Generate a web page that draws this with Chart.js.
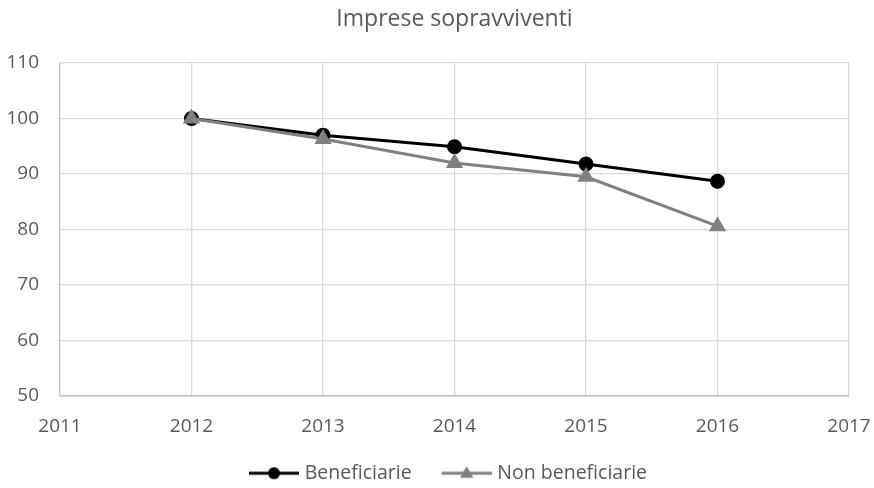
<!DOCTYPE html>
<html>
<head>
<meta charset="utf-8">
<script src="https://cdn.jsdelivr.net/npm/chart.js@4/dist/chart.umd.min.js"></script>
<style>
  html, body { margin: 0; padding: 0; background: #ffffff; }
  #wrap { width: 874px; height: 488px; }
</style>
</head>
<body>
<div id="wrap"><canvas id="chart" width="874" height="488"></canvas></div>
<script>
// Surviving firms index (2012 = 100)
const years = [2012, 2013, 2014, 2015, 2016];
const beneficiarie = [100, 97.0, 94.9, 91.8, 88.7];
const nonBeneficiarie = [100, 96.3, 92.0, 89.5, 80.6];
const seriesNames = ['Beneficiarie', 'Non beneficiarie'];
const chartTitle = 'Imprese sopravviventi';

const FONT = "'Open Sans', 'Noto Sans', sans-serif";
const TEXT = '#595959';
const GRID = '#d9d9d9';

// Legend swatch: a 50px line segment with the series marker in its middle.
// The canvas overhangs the legend box by 4px on each side so the line
// runs close to the label text; the rest of the box is leading space.
const SWATCH_BOX = 68, SWATCH_LINE = 50, OVERHANG = 4;
function swatch(color, style, radius) {
  const h = 18;
  const c = document.createElement('canvas');
  c.width = SWATCH_BOX + OVERHANG * 2; c.height = h;
  const g = c.getContext('2d');
  const x1 = c.width, x0 = x1 - SWATCH_LINE, cy = h / 2;
  g.strokeStyle = color; g.lineWidth = 3;
  g.beginPath(); g.moveTo(x0, cy); g.lineTo(x1, cy); g.stroke();
  g.fillStyle = color;
  const cx = (x0 + x1) / 2;
  g.beginPath();
  if (style === 'circle') {
    g.arc(cx, cy, radius, 0, Math.PI * 2);
  } else {
    g.moveTo(cx, cy - radius);
    g.lineTo(cx + radius * 0.95, cy + radius * 0.65);
    g.lineTo(cx - radius * 0.95, cy + radius * 0.65);
    g.closePath();
  }
  g.fill();
  return c;
}

const toPoints = vals => years.map((yr, i) => ({ x: yr, y: vals[i] }));

new Chart(document.getElementById('chart'), {
  type: 'line',
  data: {
    datasets: [
      {
        label: seriesNames[0],
        data: toPoints(beneficiarie),
        borderColor: '#000000',
        backgroundColor: '#000000',
        borderWidth: 3,
        pointStyle: 'circle',
        pointRadius: 6,
        pointHoverRadius: 6,
        tension: 0,
        order: 1
      },
      {
        label: seriesNames[1],
        data: toPoints(nonBeneficiarie),
        borderColor: '#808080',
        backgroundColor: '#808080',
        borderWidth: 3,
        pointStyle: 'triangle',
        pointRadius: 7,
        pointHoverRadius: 7,
        tension: 0,
        order: 0
      }
    ]
  },
  options: {
    responsive: false,
    animation: false,
    layout: { padding: { left: 0, right: 0, top: 0, bottom: -5 } },
    scales: {
      x: {
        type: 'linear',
        min: 2011,
        max: 2017,
        ticks: {
          stepSize: 1,
          color: TEXT,
          padding: 19,
          font: { family: FONT, size: 19 },
          callback: v => String(v)
        },
        grid: { color: GRID, lineWidth: 1.3, drawTicks: false },
        border: { color: '#bfbfbf', width: 1.5 },
        // right margin of the plot, wide enough for the last year label
        afterFit: s => { s.height = 59.5; s.paddingRight = 25; }
      },
      y: {
        min: 50,
        max: 110,
        ticks: {
          stepSize: 10,
          color: TEXT,
          padding: 21,
          font: { family: FONT, size: 19 }
        },
        grid: { color: GRID, lineWidth: 1.3, drawTicks: false },
        border: { color: '#c8c8c8', width: 1.3 },
        afterFit: s => { s.width = 60; }
      }
    },
    plugins: {
      title: {
        display: true,
        fullSize: false,
        text: chartTitle,
        color: TEXT,
        font: { family: FONT, size: 23, weight: 'normal', lineHeight: 1.2 },
        padding: { top: 6, bottom: 29.4 }
      },
      legend: {
        position: 'bottom',
        labels: {
          color: TEXT,
          font: { family: FONT, size: 19.5 },
          usePointStyle: true,
          pointStyleWidth: SWATCH_BOX,
          padding: 8,
          generateLabels: chart => chart.data.datasets.map((ds, i) => ({
            text: ds.label,
            fontColor: TEXT,
            datasetIndex: i,
            hidden: false,
            lineWidth: 0,
            strokeStyle: 'transparent',
            fillStyle: 'transparent',
            pointStyle: swatch(ds.borderColor, ds.pointStyle, i === 0 ? 6 : 7)
          }))
        }
      },
      tooltip: { enabled: false }
    }
  }
});
</script>
</body>
</html>
